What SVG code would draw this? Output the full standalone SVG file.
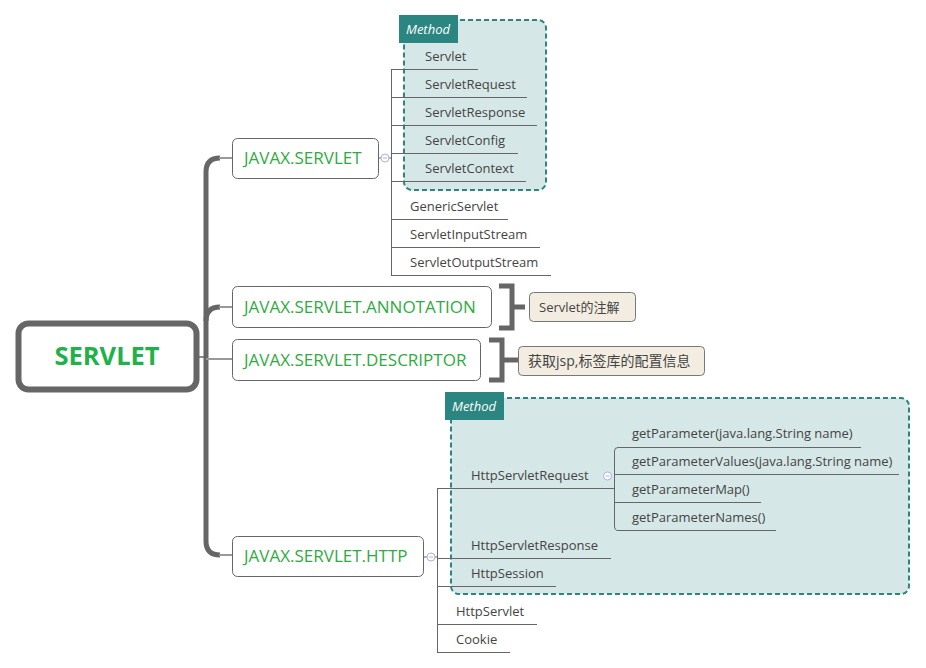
<svg xmlns="http://www.w3.org/2000/svg" width="926" height="668" viewBox="0 0 926 668">
<style>
.lbl{font-family:"Open Sans","Liberation Sans",sans-serif;font-size:13px;fill:#444}
.main{font-family:"Open Sans","Liberation Sans",sans-serif;font-size:17px;fill:#2fab3f}
.box{fill:#fff;stroke:#666;stroke-width:1}
.ul{stroke:#666;stroke-width:1;fill:none}
.grp{fill:#d5e7e6;stroke:#2b8580;stroke-width:2;stroke-dasharray:5 3}
.tab{fill:#2b8580}
.tabt{font-family:"Open Sans","Liberation Sans",sans-serif;font-size:13px;font-style:italic;fill:#fff}
.note{fill:#f3ede1;stroke:#777;stroke-width:1}
.notet{font-family:"Open Sans","Liberation Sans","Noto Sans CJK SC",sans-serif;font-size:13px;fill:#444}
.notet2{font-family:"Open Sans","Liberation Sans","Noto Sans CJK SC",sans-serif;font-size:14px;fill:#444}
.col{fill:#fff;stroke:#a8b4e0;stroke-width:1}
.trunk{stroke:#666;stroke-width:5;fill:none}
.thin{stroke:#999;stroke-width:2;fill:none}
.brk{stroke:#666;stroke-width:5;fill:none}
</style>
<g id="groups">
<rect class="grp" x="404" y="20" width="142" height="170" rx="8"/>
<rect class="tab" x="399" y="15" width="59" height="28"/>
<text class="tabt" x="406" y="34">Method</text>
<rect class="grp" x="451" y="398" width="458" height="196" rx="8"/>
<rect class="tab" x="445" y="392" width="59" height="28"/>
<text class="tabt" x="452" y="411">Method</text>
</g>
<g id="connectors">
<path class="trunk" d="M220 158 Q206 158 206 172 L206 541 Q206 555 220 555"/>
<path class="trunk" d="M220 307 Q206 307 206 321"/>
<line x1="197" y1="357" x2="206" y2="357" stroke="#666" stroke-width="1.5"/>
<line class="thin" x1="219" y1="158" x2="233" y2="158"/>
<line class="thin" x1="219" y1="307" x2="233" y2="307"/>
<line class="thin" x1="206" y1="359" x2="233" y2="359"/>
<line class="thin" x1="219" y1="555" x2="233" y2="555"/>
<path class="brk" d="M499 286 H512 V328 H499 M512 307 H525"/>
<path class="brk" d="M489 340 H502 V380 H489 M502 360 H518"/>
<line class="ul" x1="379" y1="158" x2="391" y2="158"/>
<line class="ul" x1="391.5" y1="69" x2="391.5" y2="275"/>
<line class="ul" x1="391" y1="69.5" x2="478" y2="69.5"/>
<line class="ul" x1="391" y1="97.5" x2="527" y2="97.5"/>
<line class="ul" x1="391" y1="125.5" x2="537" y2="125.5"/>
<line class="ul" x1="391" y1="153.5" x2="518" y2="153.5"/>
<line class="ul" x1="391" y1="181.5" x2="526" y2="181.5"/>
<line class="ul" x1="391" y1="219.5" x2="508" y2="219.5"/>
<line class="ul" x1="391" y1="247.5" x2="540" y2="247.5"/>
<line class="ul" x1="391" y1="275.5" x2="551" y2="275.5"/>
<line class="ul" x1="424" y1="557" x2="437" y2="557"/>
<line class="ul" x1="437.5" y1="488" x2="437.5" y2="652"/>
<line class="ul" x1="437" y1="488.5" x2="614" y2="488.5"/>
<line class="ul" x1="437" y1="558.5" x2="611" y2="558.5"/>
<line class="ul" x1="437" y1="586.5" x2="556" y2="586.5"/>
<line class="ul" x1="437" y1="624.5" x2="537" y2="624.5"/>
<line class="ul" x1="437" y1="652.5" x2="510" y2="652.5"/>
<path class="ul" d="M861 447.5 H618 Q614.5 447.5 614.5 451 V526 Q614.5 530.5 618 530.5 H776"/>
<line class="ul" x1="614" y1="474.5" x2="899" y2="474.5"/>
<line class="ul" x1="614" y1="502.5" x2="761" y2="502.5"/>
</g>
<g id="root">
<rect x="18.5" y="323.5" width="178" height="66" rx="10" fill="#fff" stroke="#666" stroke-width="6"/>
<text x="107" y="365" text-anchor="middle" font-family="'Open Sans','Liberation Sans',sans-serif" font-size="25.5" font-weight="bold" fill="#1fb14a">SERVLET</text>
</g>
<g id="javax-servlet">
<rect class="box" x="232.5" y="138.5" width="146" height="40" rx="5"/>
<text class="main" x="244" y="164">JAVAX.SERVLET</text>
<circle class="col" cx="385" cy="158" r="4"/>
<line x1="383" y1="158" x2="387" y2="158" stroke="#a8b4e0" stroke-width="1"/>
</g>
<g id="n-servlet"><text class="lbl" x="425" y="61">Servlet</text></g>
<g id="n-servletrequest"><text class="lbl" x="425" y="89">ServletRequest</text></g>
<g id="n-servletresponse"><text class="lbl" x="425" y="117">ServletResponse</text></g>
<g id="n-servletconfig"><text class="lbl" x="425" y="145">ServletConfig</text></g>
<g id="n-servletcontext"><text class="lbl" x="425" y="173">ServletContext</text></g>
<g id="n-genericservlet"><text class="lbl" x="410" y="211">GenericServlet</text></g>
<g id="n-servletinputstream"><text class="lbl" x="410" y="239">ServletInputStream</text></g>
<g id="n-servletoutputstream"><text class="lbl" x="410" y="267">ServletOutputStream</text></g>
<g id="javax-annotation">
<rect class="box" x="232.5" y="286.5" width="259" height="41" rx="5"/>
<text class="main" x="244" y="313">JAVAX.SERVLET.ANNOTATION</text>
</g>
<g id="note-annotation">
<rect class="note" x="529.5" y="292.5" width="106" height="29" rx="4"/>
<text class="notet" x="539" y="312">Servlet的注解</text>
</g>
<g id="javax-descriptor">
<rect class="box" x="232.5" y="339.5" width="248" height="41" rx="5"/>
<text class="main" x="244" y="366">JAVAX.SERVLET.DESCRIPTOR</text>
</g>
<g id="note-descriptor">
<rect class="note" x="518.5" y="346.5" width="186" height="29" rx="4"/>
<text class="notet2" x="528" y="366">获取jsp,标签库的配置信息</text>
</g>
<g id="javax-http">
<rect class="box" x="232.5" y="536.5" width="191" height="40" rx="5"/>
<text class="main" x="244" y="562">JAVAX.SERVLET.HTTP</text>
<circle class="col" cx="431" cy="557" r="4"/>
<line x1="429" y1="557" x2="433" y2="557" stroke="#a8b4e0" stroke-width="1"/>
</g>
<g id="n-httpservletrequest">
<text class="lbl" x="471" y="480">HttpServletRequest</text>
<circle class="col" cx="607.5" cy="476" r="4"/>
<line x1="605.5" y1="476" x2="609.5" y2="476" stroke="#a8b4e0" stroke-width="1"/>
</g>
<g id="n-getparameter"><text class="lbl" x="632" y="438">getParameter(java.lang.String name)</text></g>
<g id="n-getparametervalues"><text class="lbl" x="632" y="466">getParameterValues(java.lang.String name)</text></g>
<g id="n-getparametermap"><text class="lbl" x="632" y="494">getParameterMap()</text></g>
<g id="n-getparameternames"><text class="lbl" x="632" y="522">getParameterNames()</text></g>
<g id="n-httpservletresponse"><text class="lbl" x="471" y="550">HttpServletResponse</text></g>
<g id="n-httpsession"><text class="lbl" x="471" y="578">HttpSession</text></g>
<g id="n-httpservlet"><text class="lbl" x="456" y="616">HttpServlet</text></g>
<g id="n-cookie"><text class="lbl" x="456" y="644">Cookie</text></g>
</svg>
